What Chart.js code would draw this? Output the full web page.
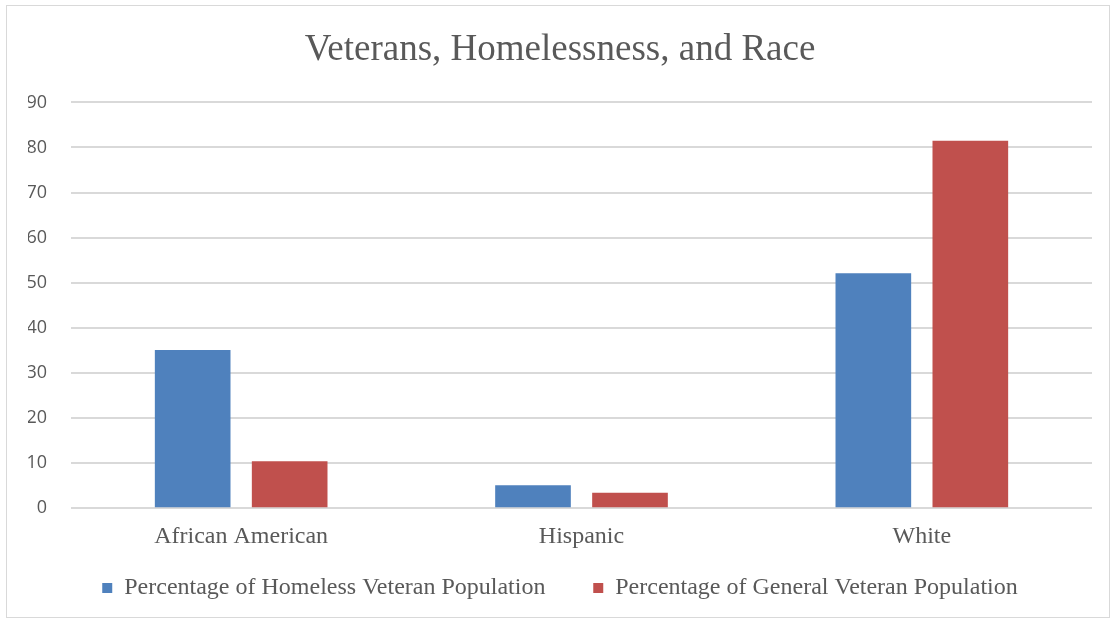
<!DOCTYPE html>
<html>
<head>
<meta charset="utf-8">
<script src="https://cdn.jsdelivr.net/npm/chart.js@4"></script>
<style>
    body { margin: 0; background: #fff; }
    #wrap { position: absolute; left: 6px; top: 5px; width: 1104px; height: 613px; border: 1px solid #d9d9d9; box-sizing: border-box; }
    #chart { display: block; }
</style>
</head>
<body>
<div id="wrap"><canvas id="chart" width="1102" height="611"></canvas></div>
<script>
// categories and series values
var categories = ['African American', 'Hispanic', 'White'];
var homelessPct = [35.1, 5.1, 52.1];
var generalPct = [10.4, 3.4, 81.5];
var yTicks = [0, 10, 20, 30, 40, 50, 60, 70, 80, 90];

var grey = '#595959';
var serif = '"Liberation Serif", "Times New Roman", serif';

var ctx = document.getElementById('chart').getContext('2d');
var chart = new Chart(ctx, {
    type: 'bar',
    data: {
        labels: categories,
        datasets: [{
            label: 'Percentage of Homeless Veteran Population',
            data: homelessPct,
            backgroundColor: '#4f81bd',
            barPercentage: 0.78,
            categoryPercentage: 0.57
        }, {
            label: 'Percentage of General Veteran Population',
            data: generalPct,
            backgroundColor: '#c0504d',
            barPercentage: 0.78,
            categoryPercentage: 0.57
        }]
    },
    options: {
        responsive: false,
        animation: false,
        layout: { padding: { left: 21, right: 17, top: 10, bottom: 7 } },
        scales: {
            x: {
                grid: { display: false },
                border: { display: false },
                ticks: { color: grey, font: { family: serif, size: 24 }, padding: 6 }
            },
            y: {
                min: 0,
                max: 90,
                afterBuildTicks: function (axis) {
                    axis.ticks = yTicks.map(function (v) { return { value: v }; });
                },
                afterFit: function (axis) {
                    axis.width = 43;
                },
                grid: { color: '#d9d9d9', lineWidth: 2, drawTicks: false },
                border: { display: false },
                ticks: { color: grey, font: { family: '"Open Sans", sans-serif', size: 18 }, padding: 24 }
            }
        },
        plugins: {
            title: {
                display: true,
                text: 'Veterans, Homelessness, and Race',
                color: grey,
                font: { family: serif, size: 37, weight: 'normal' },
                padding: { top: 12, bottom: 30 }
            },
            legend: {
                position: 'bottom',
                labels: {
                    color: grey,
                    font: { family: serif, size: 24 },
                    boxWidth: 10,
                    boxHeight: 10,
                    padding: 19,
                    generateLabels: function (chart) {
                        var items = Chart.defaults.plugins.legend.labels.generateLabels(chart);
                        // wider gap between the two entries
                        items[0].text += '\u2003\u2009';
                        return items;
                    }
                }
            },
            tooltip: { enabled: false }
        }
    }
});
</script>
</body>
</html>
